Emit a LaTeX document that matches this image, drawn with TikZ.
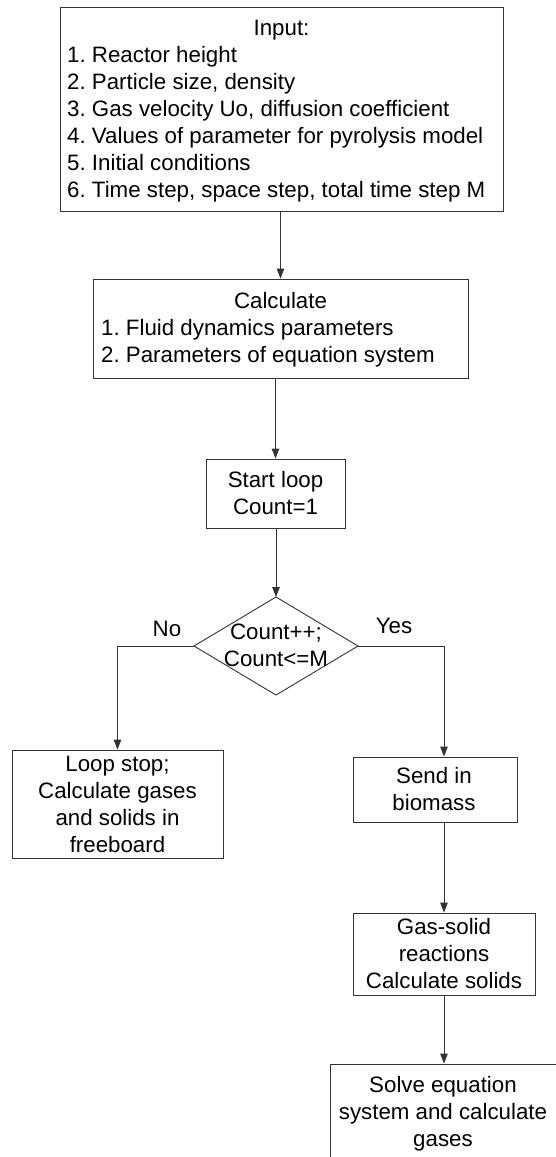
\documentclass[tikz,border=0pt]{standalone}
\usepackage{fontspec}
\setmainfont{Liberation Sans}
\frenchspacing
\usetikzlibrary{shapes.geometric,arrows.meta}
\newcommand\txl[1]{\begin{tabular}[t]{@{}l@{}}#1\end{tabular}}
\newcommand\txc[1]{\begin{tabular}[t]{@{}c@{}}#1\end{tabular}}
\tikzset{
  box/.style={draw=black!80, line width=0.9pt, rectangle, inner sep=0pt},
  decision/.style={draw=black!80, line width=0.9pt, diamond, inner sep=0pt, outer sep=0pt},
  txt/.style={inner sep=0pt, font=\fontsize{22.3}{27}\selectfont\frenchspacing, text=black},
  link/.style={draw=black!80, line width=0.9pt},
  arr/.style={link, -{Triangle[length=10pt,width=7.5pt]}}
}
\begin{document}
\begin{tikzpicture}[x=1pt,y=-1pt]
\useasboundingbox (0,0) rectangle (556,1157);
\clip (0,0) rectangle (556,1157);
\fill[white] (0,0) rectangle (556,1157);
% boxes
\node[box, minimum width=443pt, minimum height=204pt] (input) at (281.5,109) {};
\node[box, minimum width=375pt, minimum height=99pt] (calc) at (280.5,328.5) {};
\node[box, minimum width=139pt, minimum height=69pt] (start) at (275.5,493.5) {};
\node[decision, minimum width=164pt, minimum height=98pt] (dia) at (276,646) {};
\node[box, minimum width=211pt, minimum height=108pt] (loopstop) at (117.5,804) {};
\node[box, minimum width=164pt, minimum height=65pt] (send) at (435,789.5) {};
\node[box, minimum width=182pt, minimum height=82pt] (gas) at (444,954) {};
\node[box, minimum width=240pt, minimum height=116pt] (solve) at (450,1122) {};
% texts
\node[txt, anchor=base] (inputT) at (281.5,35) {Input:};
\node[txt, anchor=base west] (inputL) at (67,62) {\txl{1. Reactor height\\2. Particle size, density\\3. Gas velocity Uo, diffusion coefficient\\4. Values of parameter for pyrolysis model\\5. Initial conditions\\6. Time step, space step, total time step M}};
\node[txt, anchor=base] (calcT) at (280.5,308) {Calculate};
\node[txt, anchor=base west] (calcL) at (101,335) {\txl{1. Fluid dynamics parameters\\2. Parameters of equation system}};
\node[txt, anchor=base] (startT) at (275.5,487) {\txc{Start loop\\Count=1}};
\node[txt, anchor=base] (diaT) at (276,639) {\txc{Count++;\\Count<=M}};
\node[txt, anchor=base] (noT) at (167,636) {No};
\node[txt, anchor=base] (yesT) at (394,633) {Yes};
\node[txt, anchor=base] (loopT) at (117.5,771) {\txc{Loop stop;\\Calculate gases\\and solids in\\freeboard}};
\node[txt, anchor=base] (sendT) at (434,783) {\txc{Send in\\biomass}};
\node[txt, anchor=base] (gasT) at (444,934) {\txc{Gas-solid\\reactions\\Calculate solids}};
\node[txt, anchor=base] (solveT) at (443,1092) {\txc{Solve equation\\system and calculate\\gases}};
% connectors
\draw[arr] (input.south -| calc.north) -- (calc.north);
\draw[arr] (calc.south -| start.north) -- (start.north);
\draw[arr] (start.south -| dia.north) -- (dia.north);
\draw[arr] (dia.west) -| (loopstop.north);
\draw[arr] (dia.east) -| (gas.north |- send.north);
\draw[arr] (send.south -| gas.north) -- (gas.north);
\draw[arr] (gas.south) -- (gas.south |- solve.north);
\end{tikzpicture}
\end{document}
